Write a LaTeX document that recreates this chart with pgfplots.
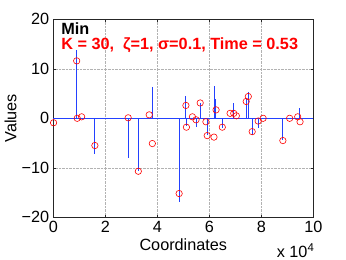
\documentclass[border=0pt]{standalone}
\usepackage{pgfplots}
\pgfplotsset{compat=1.18}
\usepackage{fontspec}
\setmainfont{Liberation Sans}
\definecolor{stemblue}{RGB}{35,65,255}
\begin{document}
\begin{tikzpicture}
\begin{axis}[
  scale only axis, width=260bp, height=198bp,
  xmin=0, xmax=100000, ymin=-20, ymax=20,
  clip=false,
  xtick={0,20000,40000,60000,80000,100000},
  xticklabels={0,2,4,6,8,10},
  scaled x ticks=false,
  ytick={-20,-10,0,10,20},
  yticklabels={−20,−10,0,10,20},
  tick pos=both, tick align=inside, major tick length=2.5bp,
  grid=major, major grid style={densely dotted, gray!60, line width=0.5bp},
  axis line style={black!85, line width=0.6bp},
  tick style={black!85, line width=0.5bp},
  font=\fontsize{16.3}{19}\selectfont,
  tick label style={font=\fontsize{16.3}{19}\selectfont},
  /pgf/number format/assume math mode=true,
  xlabel={Coordinates}, ylabel={Values},
  xlabel style={at={(axis description cs:0.5,-0.168)}, anchor=base, inner sep=0pt},
  ylabel style={at={(axis description cs:-0.142,0.5)}, anchor=base, inner sep=0pt},
  xticklabel style={inner sep=0.5bp, yshift=-3.5bp},
  yticklabel style={xshift=-0.5bp},
]
% baseline of the stem plot
\addplot[stemblue, line width=0.9bp, forget plot] coordinates {(0,0) (100000,0)};
% true signal (stems)
\addplot[ycomb, stemblue, line width=0.9bp, mark=none] coordinates {
(9000,13.85) (16000,-7.3) (28800,-8.1) (32700,-10.7) (38100,6.4)
(48400,-17.0) (51000,4.5) (51200,-1.5) (54900,-1.7) (56500,3.0)
(59100,-3.4) (61900,6.5) (62400,3.8) (65000,-2.0) (69400,3.0)
(74200,3.8) (75000,5.3) (76500,-3.4) (78800,-2.0) (88300,-4.4)
(94800,2.0)
};
% recovered signal (circles)
\addplot[only marks, mark=o, red, mark size=3.2bp, line width=0.6bp] coordinates {
(100,-0.9) (9000,11.6) (9200,0) (10900,0.3) (16000,-5.5) (28800,0.1)
(32700,-10.7) (36900,0.7) (38100,-5.1) (48400,-15.2) (51000,2.6)
(51200,-1.8) (53500,0.3) (54900,-0.3) (56500,3.1) (58700,-0.7)
(59200,-3.5) (61800,-3.8) (62600,1.7) (65000,-1.8) (68000,1.0)
(69400,1.0) (70400,0.5) (74200,3.4) (75000,4.4) (76500,-2.7)
(78800,-0.55) (80700,0) (88300,-4.5) (90900,0) (94000,0.3) (94900,-0.7)
};
\node[anchor=base west, font=\fontsize{16.3}{19}\selectfont\bfseries, inner sep=0pt] at (rel axis cs:0.03,0.925) {Min};
\node[anchor=base west, red, font=\fontsize{16.3}{19}\selectfont\bfseries, inner sep=0pt] at (rel axis cs:0.03,0.845) {K = 30,\ \ ζ=1, σ=0.1, Time = 0.53};
\node[anchor=base west, font=\fontsize{16.3}{19}\selectfont, inner sep=0pt] at (rel axis cs:0.859,-0.205) {x 10\textsuperscript{4}};
\end{axis}
\pgfresetboundingbox
\path ([shift={(-53.3bp,-42.7bp)}]current axis.south west) rectangle ([shift={(32.7bp,19.3bp)}]current axis.north east);
\end{tikzpicture}
\end{document}
